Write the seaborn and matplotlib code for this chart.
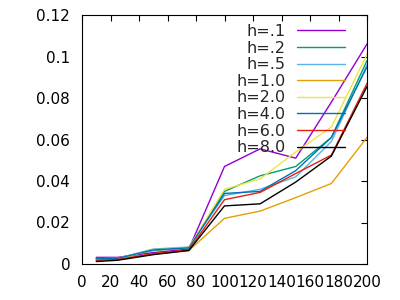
import matplotlib
matplotlib.use("Agg")
import matplotlib.pyplot as plt
import seaborn as sns
import pandas as pd
from matplotlib.ticker import FuncFormatter, MultipleLocator

# ── Data ─────────────────────────────────────────────────────────────────────
x_vals = [10, 25, 50, 75, 100, 125, 150, 175, 200]

labels = ["h=.1", "h=.2", "h=.5", "h=1.0", "h=2.0", "h=4.0", "h=6.0", "h=8.0"]
colors = ["#9400d3", "#009e73", "#56b4e9", "#e69f00",
          "#f0e442", "#0072b2", "#e51e10", "#000000"]

h01 = [0.0032, 0.0032, 0.0055, 0.0072, 0.0470, 0.0555, 0.0510, 0.0780, 0.1060]
h02 = [0.0028, 0.0028, 0.0065, 0.0078, 0.0350, 0.0425, 0.0470, 0.0610, 0.0980]
h05 = [0.0025, 0.0028, 0.0072, 0.0082, 0.0330, 0.0360, 0.0420, 0.0590, 0.0960]
h10 = [0.0018, 0.0022, 0.0048, 0.0065, 0.0220, 0.0255, 0.0320, 0.0388, 0.0610]
h20 = [0.0022, 0.0025, 0.0068, 0.0080, 0.0360, 0.0410, 0.0540, 0.0660, 0.1010]
h40 = [0.0025, 0.0027, 0.0068, 0.0078, 0.0340, 0.0350, 0.0450, 0.0610, 0.0950]
h60 = [0.0018, 0.0022, 0.0050, 0.0068, 0.0310, 0.0345, 0.0436, 0.0525, 0.0870]
h80 = [0.0012, 0.0018, 0.0045, 0.0065, 0.0280, 0.0290, 0.0395, 0.0520, 0.0855]

series = [h01, h02, h05, h10, h20, h40, h60, h80]

df = pd.concat(
    [pd.DataFrame({"x": x_vals, "y": s, "h": lab}) for lab, s in zip(labels, series)],
    ignore_index=True,
)

# ── Plot ─────────────────────────────────────────────────────────────────────
sns.set_style("white")
plt.rcParams["font.family"] = ["DejaVu Sans"]
plt.rcParams["font.size"] = 11

fig = plt.figure(figsize=(4, 3), dpi=100)
ax = fig.add_axes([0.205, 0.12, 0.7125, 0.83])

sns.lineplot(data=df, x="x", y="y", hue="h", hue_order=labels,
             palette=colors, linewidth=1, ax=ax, legend=True)

ax.set_xlim(0, 200)
ax.set_ylim(0, 0.12)
ax.xaxis.set_major_locator(MultipleLocator(20))
ax.yaxis.set_major_locator(MultipleLocator(0.02))
ax.yaxis.set_major_formatter(FuncFormatter(lambda v, p: "%g" % round(v, 4)))
ax.set_xlabel("")
ax.set_ylabel("")
ax.tick_params(direction="in", length=4.5, width=0.8, top=True, right=True,
               labelsize=11, colors="black")
ax.tick_params(axis="y", pad=8.5)
ax.tick_params(axis="x", pad=8)
for sp in ax.spines.values():
    sp.set_color("black")
    sp.set_linewidth(0.8)

handles, labs = ax.get_legend_handles_labels()
ax.legend(handles, labs, loc="upper right",
          bbox_to_anchor=(345 / 400, 1 - 24 / 300),
          bbox_transform=fig.transFigure, frameon=False, markerfirst=False,
          fontsize=11.5, borderpad=0, borderaxespad=0, labelspacing=0.1,
          handlelength=3.0, handletextpad=0.7)

fig.savefig("out.png", dpi=100)
plt.close(fig)
